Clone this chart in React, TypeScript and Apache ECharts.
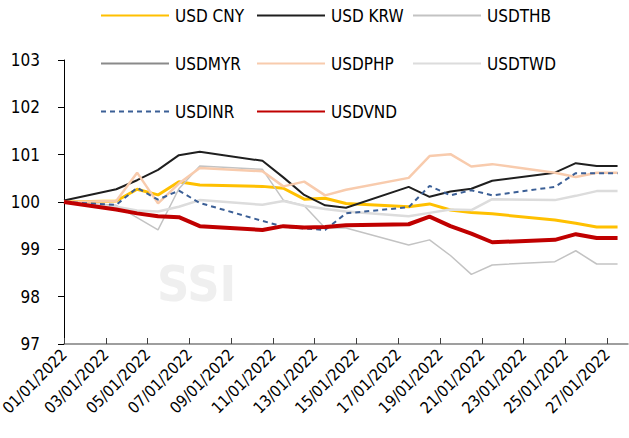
import React, { useEffect, useRef } from 'react';
import * as echarts from 'echarts';

// Trading days of January 2022 (first entry = base point, 01/01/2022)
const tradingDays = [1, 3, 4, 5, 6, 7, 10, 11, 12, 13, 14, 17, 18, 19, 20, 21, 24, 25, 26, 27];
const tickDays = [1, 3, 5, 7, 9, 11, 13, 15, 17, 19, 21, 23, 25, 27];
const yTicks = [97, 98, 99, 100, 101, 102, 103];

const usdCny = [100, 100.02, 100.27, 100.15, 100.43, 100.36, 100.33, 100.29, 100.06, 100.08, 99.97, 99.90, 99.96, 99.83, 99.78, 99.75, 99.62, 99.55, 99.47, 99.47];
const usdKrw = [100.03, 100.27, 100.46, 100.68, 100.99, 101.06, 100.87, 100.52, 100.15, 99.93, 99.88, 100.32, 100.11, 100.22, 100.28, 100.45, 100.62, 100.82, 100.76, 100.76];
const usdThb = [100, 99.93, 99.67, 99.41, 100.28, 100.76, 100.69, 100.04, 99.92, 99.45, 99.45, 99.09, 99.20, 98.87, 98.47, 98.67, 98.74, 98.97, 98.69, 98.69];
const usdMyr: (number | null)[] = [null, null, null, null, null, null, null, null, null, null, null, null, null, null, null, null, null, null, null, null];
const usdPhp = [100, 100.02, 100.62, 99.97, 100.39, 100.72, 100.65, 100.33, 100.43, 100.14, 100.26, 100.51, 100.97, 101.01, 100.75, 100.80, 100.62, 100.53, 100.62, 100.62];
const usdTwd = [100, 99.90, 99.82, 99.80, 99.90, 100.04, 99.94, 100.02, 99.92, 99.85, 99.80, 99.70, 99.77, 99.84, 99.83, 100.06, 100.04, 100.13, 100.23, 100.23];
const usdInr = [100, 99.94, 100.30, 100.05, 100.24, 99.98, 99.60, 99.48, 99.44, 99.41, 99.76, 99.89, 100.34, 100.14, 100.25, 100.14, 100.32, 100.61, 100.61, 100.61];
const usdVnd = [100, 99.84, 99.76, 99.70, 99.68, 99.49, 99.41, 99.49, 99.46, 99.47, 99.51, 99.53, 99.69, 99.49, 99.33, 99.15, 99.20, 99.32, 99.24, 99.24];

const FONT = '"DejaVu Sans Condensed", "Liberation Sans Narrow", "Arial Narrow", sans-serif';

// Excel date axis: the base point sits at the start of 01/01, trading days at the middle of their day slot
const xOf = (i: number) => (i === 0 ? 0 : tradingDays[i] - 0.5);
const toPairs = (vals: (number | null)[]) => vals.map((v, i) => [xOf(i), v]);

export default function App() {
  const ref = useRef<HTMLDivElement>(null);
  useEffect(() => {
    document.body.style.margin = '0';
    const chart = echarts.init(ref.current!, null, { renderer: 'svg' });
    const mk = (name: string, data: (number | null)[], color: string, width: number, type: any = 'solid') => ({
      name,
      type: 'line',
      data: toPairs(data),
      symbol: 'none',
      lineStyle: { color, width, type },
      itemStyle: { color },
      z: 3,
    });
    const legendBase = {
      orient: 'vertical',
      padding: 0,
      itemWidth: 68,
      itemHeight: 14,
      itemGap: 31,
      itemStyle: { opacity: 0 },
      textStyle: { fontSize: 17, color: '#000', fontFamily: FONT, padding: [0, 0, 0, 1] },
    };
    chart.setOption({
      animation: false,
      backgroundColor: '#fff',
      grid: { left: 64, right: 1, top: 60, bottom: 94, containLabel: false, outerBoundsMode: 'none' },
      legend: [
        { ...legendBase, left: 100, top: 7, data: ['USD CNY', 'USDMYR', 'USDINR'] },
        { ...legendBase, left: 256, top: 7, data: ['USD KRW', 'USDPHP', 'USDVND'] },
        { ...legendBase, left: 412, top: 7, data: ['USDTHB', 'USDTWD'] },
      ],
      graphic: [
        {
          type: 'text',
          left: 157,
          top: 259,
          z: 0,
          silent: true,
          style: { text: 'SSI', fontSize: 50, fontWeight: 'bold', fontFamily: FONT, fill: '#efefef' },
        },
      ],
      xAxis: {
        type: 'value',
        min: 0,
        max: 27,
        splitLine: { show: false },
        axisLine: { show: true, lineStyle: { color: '#7f7f7f', width: 1.5 } },
        axisTick: {
          show: true,
          inside: true,
          length: 6,
          lineStyle: { color: '#404040' },
          customValues: tickDays.map((d) => d - 1),
        },
        axisLabel: {
          rotate: 45,
          fontSize: 16,
          color: '#000',
          fontFamily: FONT,
          margin: 8,
          customValues: tickDays.map((d) => d - 1),
          formatter: (v: number) => String(Math.round(v) + 1).padStart(2, '0') + '/01/2022',
        },
      },
      yAxis: {
        type: 'value',
        min: 97,
        max: 103,
        interval: 1,
        splitLine: { show: false },
        axisLine: { show: true, lineStyle: { color: '#000', width: 1 } },
        axisTick: { show: true, inside: false, length: 6, lineStyle: { color: '#000' } },
        axisLabel: {
          fontSize: 17,
          color: '#000',
          fontFamily: FONT,
          margin: 24,
          customValues: yTicks,
        },
      },
      series: [
        mk('USD CNY', usdCny, '#FFC000', 3),
        mk('USD KRW', usdKrw, '#1f1f1f', 2),
        mk('USDTHB', usdThb, '#c3c3c3', 1.5),
        mk('USDMYR', usdMyr, '#8a8a8a', 2.5),
        mk('USDPHP', usdPhp, '#F8CBAD', 2.5),
        mk('USDTWD', usdTwd, '#dcdcdc', 2.5),
        mk('USDINR', usdInr, '#3b5f96', 2, [5, 4]),
        mk('USDVND', usdVnd, '#C00000', 4),
      ],
    });
    return () => chart.dispose();
  }, []);
  return <div ref={ref} style={{ width: 629, height: 438 }} />;
}
